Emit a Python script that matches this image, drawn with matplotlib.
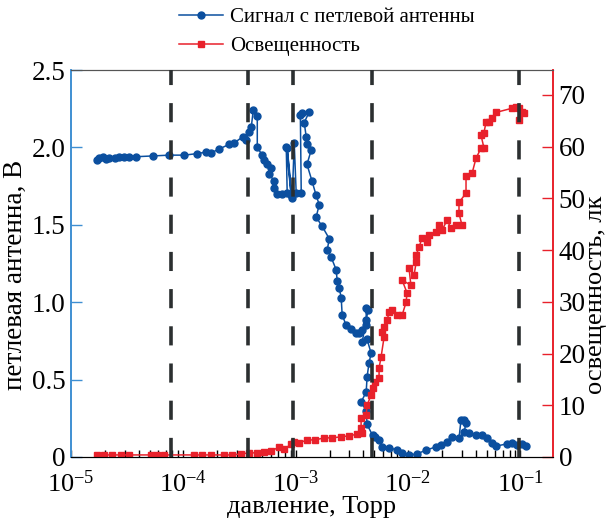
import numpy as np
import matplotlib
matplotlib.use('Agg')
import matplotlib.pyplot as plt
from matplotlib.ticker import LogLocator, NullFormatter, MultipleLocator

plt.rcParams['font.family'] = ['Liberation Serif', 'DejaVu Serif']
plt.rcParams['mathtext.fontset'] = 'custom'
plt.rcParams['mathtext.rm'] = 'Liberation Serif'
plt.rcParams['mathtext.it'] = 'Liberation Serif:italic'

# signal from loop antenna: pressure (Torr), voltage (V)
p_sig = [1.69e-5, 1.79e-5, 1.91e-5, 2.03e-5, 2.2e-5, 2.44e-5, 2.7e-5, 2.99e-5, 3.31e-5, 3.82e-5,
         5.41e-5, 7.5e-5, 1.02e-4, 1.33e-4, 1.6e-4, 1.77e-4, 2.09e-4, 2.56e-4, 2.84e-4, 3.41e-4,
         3.63e-4, 3.86e-4, 4.02e-4, 4.19e-4, 4.55e-4, 4.55e-4, 5.04e-4, 5.25e-4, 5.58e-4, 6.06e-4,
         5.81e-4, 6.44e-4, 6.44e-4, 6.85e-4, 7.59e-4, 8.4e-4, 8.24e-4, 9.12e-4, 8.4e-4, 9.31e-4,
         9.7e-4, 1.01e-3, 1.12e-3, 1.1e-3, 1.14e-3, 1.32e-3, 1.19e-3, 1.24e-3, 1.26e-3, 1.37e-3,
         1.26e-3, 1.4e-3, 1.52e-3, 1.62e-3, 1.52e-3, 1.72e-3, 1.99e-3, 1.91e-3, 2.07e-3, 2.29e-3,
         2.34e-3, 2.44e-3, 2.54e-3, 2.59e-3, 2.81e-3, 3.11e-3, 3.45e-3, 3.67e-3, 3.9e-3, 4.24e-3,
         4.24e-3, 4.41e-3, 4.24e-3, 3.9e-3, 4.32e-3, 4.69e-3, 4.5e-3, 4.32e-3, 4.24e-3, 3.82e-3,
         4.24e-3, 4.32e-3, 4.83e-3, 5.03e-3, 5.52e-3, 5.87e-3, 6.78e-3, 7.98e-3, 8.85e-3, 1.02e-2,
         1.2e-2, 1.45e-2, 1.77e-2, 1.96e-2, 2.22e-2, 2.46e-2, 2.84e-2, 2.96e-2, 3.15e-2, 3.28e-2,
         3.15e-2, 3.48e-2, 4.02e-2, 4.55e-2, 5.04e-2, 5.58e-2, 6.06e-2, 7.59e-2, 8.4e-2, 9.31e-2,
         1.03e-1, 1.12e-1]
v_sig = [1.92, 1.93, 1.94, 1.925, 1.93, 1.93, 1.94, 1.94, 1.94, 1.94,
         1.945, 1.95, 1.95, 1.96, 1.97, 1.965, 1.99, 2.02, 2.03, 2.07,
         2.05, 2.10, 2.13, 2.24, 2.20, 2.00, 1.95, 1.92, 1.89, 1.87,
         1.83, 1.78, 1.74, 1.70, 1.70, 1.705, 2.00, 1.69, 1.995, 1.67,
         2.03, 1.705, 1.705, 2.21, 2.22, 2.23, 2.16, 2.07, 2.02, 1.98,
         1.89, 1.78, 1.69, 1.63, 1.55, 1.49, 1.41, 1.34, 1.29, 1.21,
         1.14, 1.09, 1.03, 0.92, 0.85, 0.83, 0.80, 0.80, 0.82, 0.85,
         0.96, 0.95, 0.885, 0.74, 0.76, 0.67, 0.61, 0.52, 0.42, 0.355,
         0.30, 0.21, 0.14, 0.13, 0.11, 0.065, 0.06, 0.045, 0.026, 0.013,
         0.02, 0.045, 0.065, 0.08, 0.10, 0.13, 0.12, 0.24, 0.24, 0.22,
         0.16, 0.155, 0.14, 0.14, 0.12, 0.09, 0.07, 0.085, 0.09, 0.08,
         0.085, 0.07]

# illuminance: pressure (Torr), lux
p_lux = [1.69e-5, 1.98e-5, 2.34e-5, 2.81e-5, 3.31e-5, 5.2e-5, 5.87e-5, 6.78e-5, 1.25e-4, 1.47e-4,
         1.77e-4, 2.31e-4, 2.73e-4, 3.28e-4, 3.86e-4, 4.55e-4, 5.25e-4, 6.06e-4, 7.13e-4, 7.91e-4,
         9.12e-4, 9.7e-4, 1.07e-3, 1.26e-3, 1.49e-3, 1.79e-3, 2.11e-3, 2.54e-3, 2.99e-3, 3.52e-3,
         3.9e-3, 3.82e-3, 3.82e-3, 4.24e-3, 4.32e-3, 4.69e-3, 4.83e-3, 5.03e-3, 5.52e-3, 5.52e-3,
         5.75e-3, 6.12e-3, 5.87e-3, 6.12e-3, 6.5e-3, 6.78e-3, 7.21e-3, 7.98e-3, 8.85e-3, 9.6e-3,
         9.8e-3, 8.85e-3, 1.06e-2, 1.02e-2, 1.13e-2, 1.18e-2, 1.18e-2, 1.25e-2, 1.33e-2, 1.47e-2,
         1.54e-2, 1.77e-2, 1.89e-2, 2.01e-2, 2.22e-2, 2.41e-2, 2.67e-2, 3.02e-2, 2.84e-2, 2.84e-2,
         3.28e-2, 3.28e-2, 3.71e-2, 4.02e-2, 4.46e-2, 4.74e-2, 4.46e-2, 4.74e-2, 4.94e-2, 5.25e-2,
         5.58e-2, 6.06e-2, 8.4e-2, 9.12e-2, 9.7e-2, 1.03e-1, 9.7e-2, 1.07e-1]
lux = [0.4, 0.4, 0.4, 0.4, 0.4, 0.4, 0.4, 0.4, 0.4, 0.4,
       0.4, 0.4, 0.4, 0.6, 0.8, 0.8, 1.0, 1.2, 1.9, 1.5,
       2.5, 2.9, 2.7, 3.3, 3.3, 3.7, 3.7, 3.9, 4.1, 4.4,
       4.6, 5.6, 7.5, 8.1, 10.0, 12.0, 13.3, 14.5, 15.3, 17.2,
       19.3, 23.2, 24.1, 25.1, 26.4, 28.0, 28.4, 27.4, 27.4, 29.9,
       31.7, 34.2, 33.2, 36.5, 35.1, 37.6, 39.0, 40.5, 42.3, 41.5,
       42.9, 43.4, 44.8, 43.8, 45.8, 44.2, 44.8, 44.8, 47.1, 49.2,
       51.0, 54.4, 54.8, 57.7, 59.7, 59.7, 62.2, 62.7, 64.7, 64.7,
       65.6, 66.6, 67.4, 67.6, 67.4, 66.6, 65.1, 66.4]

# pressures of the vertical dashed markers
p_marks = [7.8e-5, 3.8e-4, 9.5e-4, 4.8e-3, 9.8e-2]

blue = '#0b4f9f'
red = '#e8212b'
c_left = '#3f8fd2'

fig = plt.figure(figsize=(6.09, 5.21), dpi=100)
ax = fig.add_axes([71/609, 1 - 457/521, (553 - 71)/609, (457 - 70)/521])
ax2 = ax.twinx()

l1, = ax.plot(p_sig, v_sig, '-o', color=blue, lw=1.1, ms=5.0, mec=blue, mfc=blue,
              label='Сигнал с петлевой антенны')
l2, = ax2.plot(p_lux, lux, '-s', color=red, lw=1.1, ms=4.5, mec=red, mfc=red,
               label='Освещенность')

for p in p_marks:
    ax2.axvline(p, color='#2b2f30', lw=2.6, dashes=(5.3, 5.0), zorder=10)

ax.set_xscale('log')
ax.set_xlim(1e-5, 0.195)
ax.set_ylim(0, 2.5)
ax2.set_ylim(0, 74.8)

ax.xaxis.set_major_locator(LogLocator(base=10, numticks=10))
ax.xaxis.set_minor_locator(LogLocator(base=10, subs=np.arange(2, 10), numticks=10))
ax.xaxis.set_minor_formatter(NullFormatter())

ax.set_yticks([0, 0.5, 1.0, 1.5, 2.0, 2.5])
ax.set_yticklabels(['0', '0.5', '1.0', '1.5', '2.0', '2.5'])
ax2.yaxis.set_major_locator(MultipleLocator(10))

fs = 19.5
ax.tick_params(axis='x', which='both', direction='in', length=5, width=1, color='black',
               labelsize=19, pad=10, top=False)
ax.tick_params(axis='y', direction='in', length=8, width=1, color=c_left, labelsize=fs, pad=4)
ax2.tick_params(axis='y', direction='in', length=8, width=1, color=red, labelsize=fs, pad=4)

for a in (ax, ax2):
    a.spines['left'].set_color(c_left)
    a.spines['right'].set_color(red)
    a.spines['top'].set_color('#555555')
    a.spines['bottom'].set_color('black')
    a.spines['left'].set_linewidth(1.2)
    a.spines['right'].set_linewidth(1.2)

ax.set_xlabel('давление, Торр', fontsize=19, labelpad=-1)
ax.set_ylabel('петлевая антенна, В', fontsize=19.5)
ax2.set_ylabel('освещенность, лк', fontsize=19)
ax.yaxis.set_label_coords(-0.09, 0.47)
ax2.yaxis.set_label_coords(1.066, 0.42)

fig.legend(handles=[l1, l2], loc='upper left', bbox_to_anchor=(172/609, 1.0),
           frameon=False, fontsize=15, handlelength=2.1, handletextpad=0.35,
           labelspacing=0.45, borderpad=0.35, borderaxespad=0)

plt.savefig('out.png', dpi=100)
